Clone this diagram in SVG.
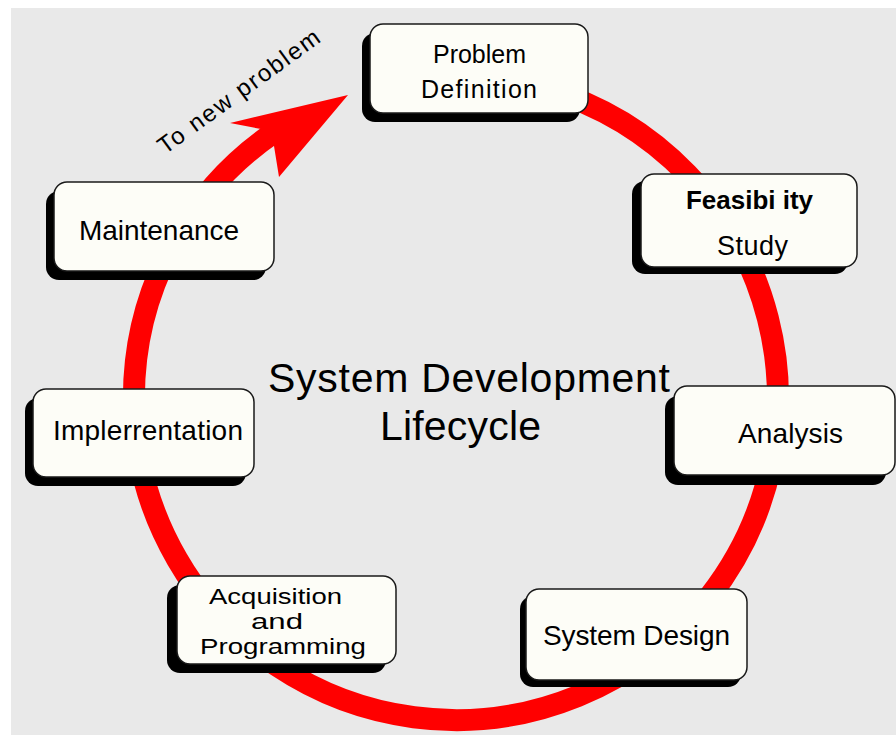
<svg xmlns="http://www.w3.org/2000/svg" width="896" height="740" viewBox="0 0 896 740">
<style>
.box{fill:#fdfdf7;stroke:#1a1a1a;stroke-width:1.5}
.shadow{fill:#000}
.lbl{font-family:"Liberation Sans",Arial,sans-serif;fill:#000;text-anchor:middle}
.ring{fill:none;stroke:#ff0000;stroke-width:22}
</style>
<rect x="0" y="0" width="896" height="740" fill="#ffffff"/>
<rect x="11" y="8" width="885" height="727" fill="#e9e9e9"/>
<g id="connectors">
<path class="ring" d="M 400.1 80.9 A 322 322 0 1 1 273.6 132.6"/>
<polygon points="348,95 230,123 261,129 274,146 279,177" fill="#ff0000"/>
<text class="lbl" x="165" y="155" style="text-anchor:start" font-size="24" textLength="194" lengthAdjust="spacing" transform="rotate(-36 165 155)">To new problem</text>
</g>
<g id="problem-definition">
<rect class="shadow" x="362" y="33" width="218" height="89" rx="13"/>
<rect class="box" x="370" y="24" width="218" height="89" rx="13"/>
<text class="lbl" x="479.5" y="63" font-size="25" textLength="93" lengthAdjust="spacing">Problem</text>
<text class="lbl" x="479" y="98" font-size="25" textLength="116" lengthAdjust="spacing">Definition</text>
</g>
<g id="feasibility-study">
<rect class="shadow" x="632" y="181" width="216" height="93" rx="13"/>
<rect class="box" x="641" y="174" width="216" height="93" rx="13"/>
<text class="lbl" x="749.5" y="209" font-size="26" font-weight="bold" textLength="127" lengthAdjust="spacing">Feasibi ity</text>
<text class="lbl" x="752.5" y="255" font-size="27" textLength="71" lengthAdjust="spacing">Study</text>
</g>
<g id="analysis">
<rect class="shadow" x="665" y="396" width="221" height="89" rx="13"/>
<rect class="box" x="674" y="386" width="221" height="89" rx="13"/>
<text class="lbl" x="790.5" y="443" font-size="28" textLength="105" lengthAdjust="spacing">Analysis</text>
</g>
<g id="system-design">
<rect class="shadow" x="520" y="596" width="221" height="91" rx="13"/>
<rect class="box" x="526" y="589" width="221" height="91" rx="13"/>
<text class="lbl" x="636.5" y="645" font-size="28" textLength="187" lengthAdjust="spacing">System Design</text>
</g>
<g id="acquisition-programming">
<rect class="shadow" x="167" y="585" width="219" height="88" rx="13"/>
<rect class="box" x="177" y="576" width="219" height="88" rx="13"/>
<text class="lbl" x="275.5" y="604" font-size="22" textLength="133" lengthAdjust="spacingAndGlyphs">Acquisition</text>
<text class="lbl" x="277" y="629" font-size="22" textLength="52" lengthAdjust="spacingAndGlyphs">and</text>
<text class="lbl" x="283" y="654" font-size="22" textLength="166" lengthAdjust="spacingAndGlyphs">Programming</text>
</g>
<g id="implementation">
<rect class="shadow" x="25" y="398" width="221" height="88" rx="13"/>
<rect class="box" x="33" y="389" width="221" height="88" rx="13"/>
<text class="lbl" x="148" y="440" font-size="28" textLength="190" lengthAdjust="spacing">Implerrentation</text>
</g>
<g id="maintenance">
<rect class="shadow" x="46" y="191" width="220" height="89" rx="13"/>
<rect class="box" x="54" y="182" width="220" height="89" rx="13"/>
<text class="lbl" x="159" y="240" font-size="28" textLength="160" lengthAdjust="spacing">Maintenance</text>
</g>
<g id="title">
<text class="lbl" x="469" y="392" font-size="41" textLength="402" lengthAdjust="spacing">System Development</text>
<text class="lbl" x="460.5" y="440" font-size="41" textLength="161" lengthAdjust="spacing">Lifecycle</text>
</g>
</svg>
